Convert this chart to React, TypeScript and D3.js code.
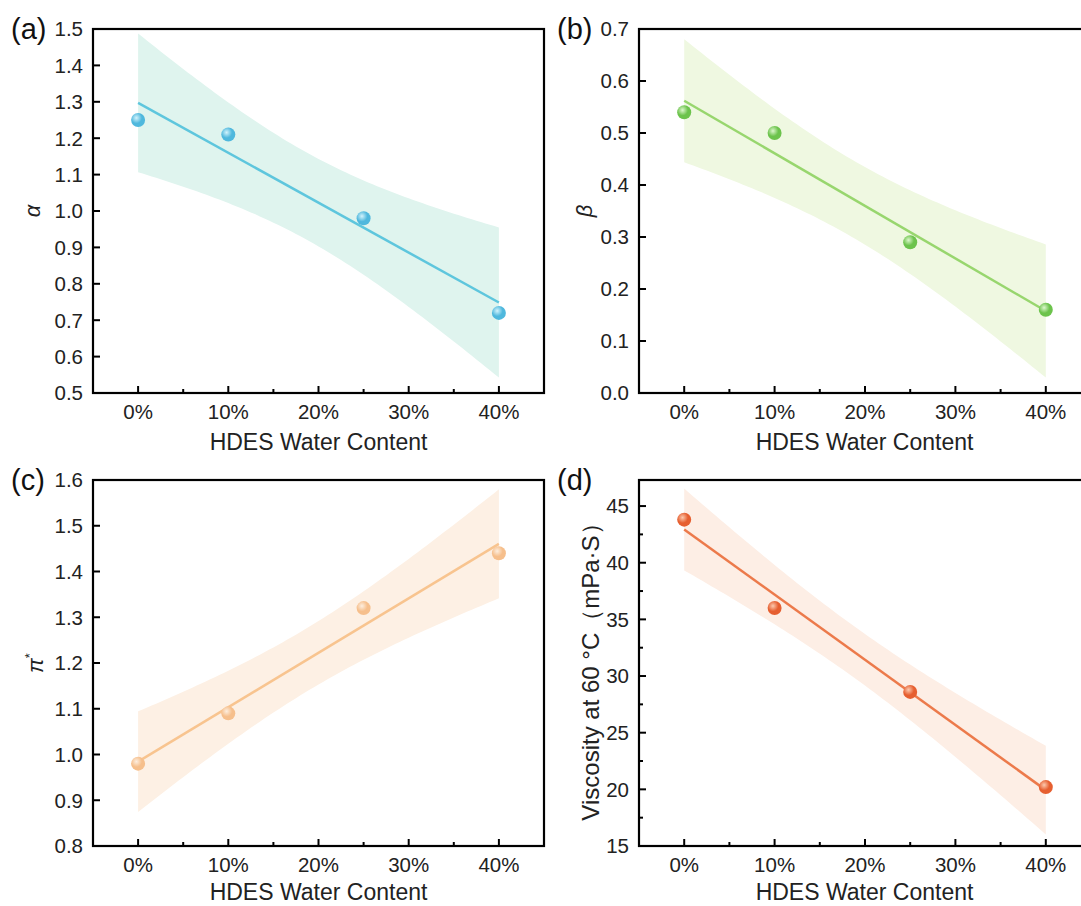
import React from 'react';
import * as d3 from 'd3';

// water content (%) of each sample
const waterContent = [0, 10, 25, 40];
const alphaValues = [1.25, 1.21, 0.98, 0.72];
const betaValues = [0.54, 0.5, 0.29, 0.16];
const piValues = [0.98, 1.09, 1.32, 1.44];
const viscosityValues = [43.8, 36.0, 28.6, 20.2];

const xTicks = [0, 10, 20, 30, 40];
const alphaTicks = [0.5, 0.6, 0.7, 0.8, 0.9, 1.0, 1.1, 1.2, 1.3, 1.4, 1.5];
const betaTicks = [0.0, 0.1, 0.2, 0.3, 0.4, 0.5, 0.6, 0.7];
const piTicks = [0.8, 0.9, 1.0, 1.1, 1.2, 1.3, 1.4, 1.5, 1.6];
const viscosityTicks = [15, 20, 25, 30, 35, 40, 45];
const viscosityMinor = [17.5, 22.5, 27.5, 32.5, 37.5, 42.5];

const FONT = '"Liberation Sans", Arial, sans-serif';
const T_95_DF2 = 4.303;

// ordinary least squares + 95% confidence band
function fit(xs: number[], ys: number[]) {
  const n = xs.length;
  const mx = d3.mean(xs)!;
  const my = d3.mean(ys)!;
  const sxx = d3.sum(xs, x => (x - mx) ** 2);
  const sxy = d3.sum(xs.map((x, i) => (x - mx) * (ys[i] - my)));
  const slope = sxy / sxx;
  const icpt = my - slope * mx;
  const sse = d3.sum(xs.map((x, i) => (ys[i] - (icpt + slope * x)) ** 2));
  const s = Math.sqrt(sse / (n - 2));
  const predict = (x: number) => icpt + slope * x;
  const half = (x: number) => T_95_DF2 * s * Math.sqrt(1 / n + (x - mx) ** 2 / sxx);
  return { predict, half };
}

type Panel = {
  id: string;
  label: string;
  left: number; right: number; top: number; bottom: number;
  domain: [number, number];
  ticks: number[];
  minor: number[];
  fmt: (v: number) => string;
  ys: number[];
  point: string; pointLight: string; line: string; band: string;
  yLabel: React.ReactNode;
  yLabelX: number;
  titleDy: number;
};

const panels: Panel[] = [
  {
    id: 'a', label: '(a)', left: 93, right: 544, top: 29, bottom: 393,
    domain: [0.5, 1.5], ticks: alphaTicks, minor: [], fmt: d3.format('.1f'), ys: alphaValues,
    point: '#4fb8dd', pointLight: '#d2f3fc', line: '#5ec6dd', band: '#dff4ee',
    yLabel: <tspan fontStyle="italic">α</tspan>, yLabelX: 40, titleDy: 57,
  },
  {
    id: 'b', label: '(b)', left: 639, right: 1091, top: 29, bottom: 393,
    domain: [0, 0.7], ticks: betaTicks, minor: [], fmt: d3.format('.1f'), ys: betaValues,
    point: '#6cc34c', pointLight: '#dcf7cc', line: '#98d66e', band: '#eff8e1',
    yLabel: <tspan fontStyle="italic">β</tspan>, yLabelX: 592, titleDy: 57,
  },
  {
    id: 'c', label: '(c)', left: 93, right: 544, top: 480, bottom: 846,
    domain: [0.8, 1.6], ticks: piTicks, minor: [], fmt: d3.format('.1f'), ys: piValues,
    point: '#f6bf8c', pointLight: '#fdeedf', line: '#f8c48f', band: '#fdf0e4',
    yLabel: <><tspan fontStyle="italic">π</tspan><tspan dy="-9" fontSize="13">*</tspan></>, yLabelX: 43, titleDy: 54,
  },
  {
    id: 'd', label: '(d)', left: 639, right: 1091, top: 480, bottom: 846,
    domain: [15, 47.3], ticks: viscosityTicks, minor: viscosityMinor, fmt: d3.format('d'), ys: viscosityValues,
    point: '#e65f30', pointLight: '#fcc9ae', line: '#ec7a4b', band: '#fdeee5',
    yLabel: 'Viscosity at 60 °C（mPa·S）', yLabelX: 599, titleDy: 54,
  },
];

function PanelView({ p }: { p: Panel }) {
  const x = d3.scaleLinear().domain([-5, 45]).range([p.left, p.right]);
  const y = d3.scaleLinear().domain(p.domain).range([p.bottom, p.top]);
  const { predict, half } = fit(waterContent, p.ys);
  const xs = d3.range(0, 40.001, 0.5);
  const area = d3.area<number>()
    .x(v => x(v))
    .y0(v => y(predict(v) - half(v)))
    .y1(v => y(predict(v) + half(v)));
  const line = d3.line<number>().x(v => x(v)).y(v => y(predict(v)));
  const xMinor = [-5, 5, 15, 25, 35, 45];
  const gid = `grad-${p.id}`;
  const clip = `clip-${p.id}`;
  const midY = p.id === 'd' ? 666 : (p.top + p.bottom) / 2;
  const titleX = p.left + (544 - 93) / 2;

  return (
    <g>
      <defs>
        <radialGradient id={gid} cx="0.38" cy="0.35" r="0.65">
          <stop offset="0" stopColor={p.pointLight} />
          <stop offset="0.6" stopColor={p.point} />
          <stop offset="1" stopColor={p.point} />
        </radialGradient>
        <clipPath id={clip}>
          <rect x={p.left} y={p.top} width={p.right - p.left} height={p.bottom - p.top} />
        </clipPath>
      </defs>
      <g clipPath={`url(#${clip})`}>
        <path d={area(xs)!} fill={p.band} />
        <path d={line([0, 40])!} stroke={p.line} strokeWidth={2.5} fill="none" />
      </g>
      {waterContent.map((w, i) => (
        <circle key={i} cx={x(w)} cy={y(p.ys[i])} r={7} fill={`url(#${gid})`} />
      ))}
      {/* frame */}
      <rect x={p.left} y={p.top} width={p.right - p.left} height={p.bottom - p.top}
        fill="none" stroke="#000" strokeWidth={2.2} />
      {/* x ticks */}
      {xTicks.map(t => (
        <g key={t}>
          <line x1={x(t)} x2={x(t)} y1={p.bottom} y2={p.bottom - 7} stroke="#000" strokeWidth={2} />
          <text x={x(t)} y={p.bottom + 26} textAnchor="middle" fontSize={20.5} fontFamily={FONT} fill="#222">{t}%</text>
        </g>
      ))}
      {xMinor.map(t => (
        <line key={t} x1={x(t)} x2={x(t)} y1={p.bottom} y2={p.bottom - 4} stroke="#000" strokeWidth={2} />
      ))}
      {/* y ticks */}
      {p.ticks.map(t => (
        <g key={t}>
          <line x1={p.left} x2={p.left + 7} y1={y(t)} y2={y(t)} stroke="#000" strokeWidth={2} />
          <text x={p.left - 10} y={y(t)} dy="0.36em" textAnchor="end" fontSize={20.5} fontFamily={FONT} fill="#222">{p.fmt(t)}</text>
        </g>
      ))}
      {p.minor.map(t => (
        <line key={t} x1={p.left} x2={p.left + 4} y1={y(t)} y2={y(t)} stroke="#000" strokeWidth={2} />
      ))}
      <text x={titleX} y={p.bottom + p.titleDy} textAnchor="middle"
        fontSize={23} fontFamily={FONT} fill="#222">HDES Water Content</text>
      <text transform={`translate(${p.yLabelX},${midY}) rotate(-90)`} textAnchor="middle"
        fontSize={p.id === 'd' ? 24 : 22} fontFamily={FONT} fill="#222">{p.yLabel}</text>
      <text x={p.left - 82} y={p.top + 10} fontSize={29} fontFamily={FONT} fill="#111">{p.label}</text>
    </g>
  );
}

export default function App() {
  return (
    <svg width={1081} height={906} style={{ position: 'absolute', left: 0, top: 0, background: '#fff' }}>
      <rect width={1081} height={906} fill="#fff" />
      {panels.map(p => <PanelView key={p.id} p={p} />)}
    </svg>
  );
}
